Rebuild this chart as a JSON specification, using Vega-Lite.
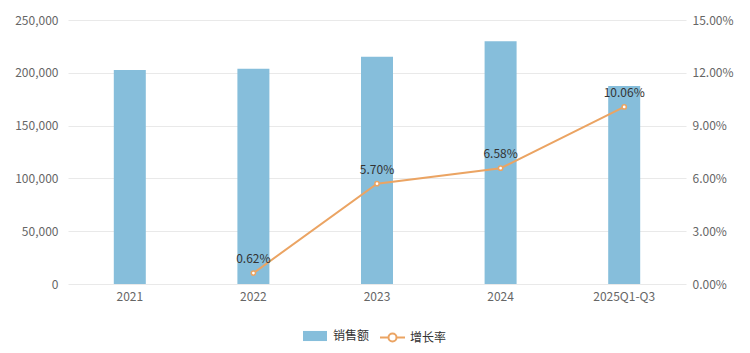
{
  "$schema": "https://vega.github.io/schema/vega-lite/v6.json",
  "width": 618,
  "height": 264,
  "autosize": {"type": "none"},
  "padding": {"left": 68, "top": 20, "right": 64, "bottom": 69},
  "background": "white",
  "config": {
    "view": {"stroke": null},
    "font": "Noto Sans CJK SC",
    "axis": {"labelFont": "Noto Sans CJK SC", "labelFontSize": 12, "labelColor": "#666666", "domain": false, "ticks": false, "title": null},
    "legend": {"labelFont": "Noto Sans CJK SC", "labelFontSize": 12, "labelColor": "#333333"}
  },
  "data": {
    "values": [
      {"period": "2021", "sales": 202600, "growth": null},
      {"period": "2022", "sales": 203900, "growth": 0.0062},
      {"period": "2023", "sales": 215200, "growth": 0.057},
      {"period": "2024", "sales": 229800, "growth": 0.0658},
      {"period": "2025Q1-Q3", "sales": 187500, "growth": 0.1006}
    ]
  },
  "encoding": {
    "x": {
      "field": "period", "type": "nominal", "sort": null,
      "scale": {"paddingInner": 0, "paddingOuter": 0},
      "axis": {"labelAngle": 0, "labelPadding": 7, "grid": false, "labelColor": "#666666"}
    }
  },
  "layer": [
    {
      "mark": {"type": "bar", "size": 32},
      "encoding": {
        "y": {
          "field": "sales", "type": "quantitative",
          "scale": {"domain": [0, 250000], "nice": false},
          "axis": {"values": [0, 50000, 100000, 150000, 200000, 250000], "format": ",.0f", "grid": true, "gridColor": "#E9E9E9", "labelPadding": 10, "orient": "left"}
        },
        "color": {
          "datum": "销售额",
          "scale": {"range": ["#86BEDB"]},
          "legend": {"orient": "none", "legendX": 235, "legendY": 304, "symbolType": "M-1,-0.42H1V0.42H-1Z", "symbolSize": 576, "symbolStrokeWidth": 0, "labelOffset": 6, "title": null}
        }
      }
    },
    {
      "transform": [{"filter": "datum.growth != null"}],
      "layer": [
        {
          "mark": {"type": "line", "strokeWidth": 2},
          "encoding": {
            "y": {
              "field": "growth", "type": "quantitative",
              "scale": {"domain": [0, 0.15], "nice": false},
              "axis": {"values": [0, 0.03, 0.06, 0.09, 0.12, 0.15], "format": ".2%", "grid": false, "orient": "right", "labelPadding": 6}
            },
            "stroke": {
              "datum": "增长率",
              "scale": {"range": ["#EBA463"]},
              "legend": {"orient": "none", "legendX": 311, "legendY": 304, "symbolType": "M-1,0H-0.32M0.32,0H1M0.32,0A0.32,0.32,0,1,1,-0.32,0A0.32,0.32,0,1,1,0.32,0", "symbolSize": 625, "symbolStrokeWidth": 2, "symbolFillColor": "white", "labelOffset": 4, "title": null}
            }
          }
        },
        {
          "mark": {"type": "point", "filled": true, "fill": "white", "strokeWidth": 1.5, "size": 18, "opacity": 1},
          "encoding": {
            "y": {"field": "growth", "type": "quantitative"},
            "stroke": {"datum": "增长率"}
          }
        },
        {
          "mark": {"type": "text", "dy": -14, "fontSize": 12, "color": "#333333"},
          "encoding": {
            "y": {"field": "growth", "type": "quantitative"},
            "text": {"field": "growth", "type": "quantitative", "format": ".2%"}
          }
        }
      ]
    }
  ],
  "resolve": {"scale": {"y": "independent"}}
}
